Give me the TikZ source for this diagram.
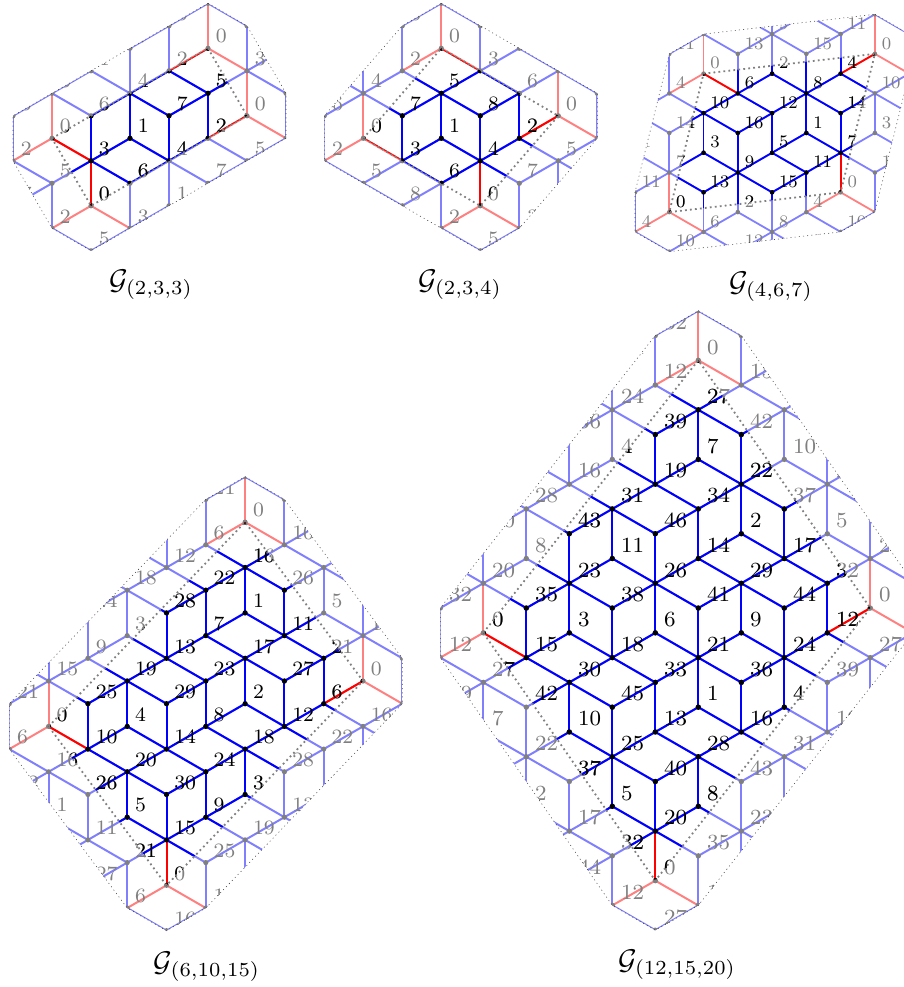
\documentclass[tikz,border=0pt]{standalone}
\colorlet{lblue}{blue!50}
\colorlet{lred}{red!50}
\colorlet{lgray}{black!50}
\tikzset{
  latedge/.style={line width=\ewidth,line cap=butt},
  vlabel/.style={font=\footnotesize,inner sep=0pt,anchor=base west,scale=\lscale},
  domdot/.style={gray,line width=1.8pt,dash pattern=on 1.8pt off 3.2pt},
  hulldot/.style={black!75,line width=0.55pt,dash pattern=on 1pt off 3.2pt},
  capt/.style={inner sep=0pt,scale=2.85}
}
\newcount\tmpm
\newcount\tmpq
\newcommand\getlab[2]{%
  \tmpm=\numexpr \pA*((#2-\rz-(#1-\cz))/2)+\pB*((#2-\rz+#1-\cz)/2)+100*\pN\relax
  \tmpq=\tmpm \divide\tmpq by \pN \multiply\tmpq by \pN \advance\tmpm by -\tmpq
  \edef\vlab{\the\tmpm}}
\newcommand\forverts[1]{%
  \foreach \vc in {\cmin,...,\cmax}{\foreach \vr in {\rmin,...,\rmax}{%
    \ifodd\numexpr\vc+\vr+\cz+\rz\relax\else\getlab\vc\vr #1\fi}}}
\newcommand\mkcoords{%
  \pgfmathtruncatemacro\cminx{\cmin-1}\pgfmathtruncatemacro\cmaxx{\cmax+1}%
  \pgfmathtruncatemacro\rminx{\rmin-2}\pgfmathtruncatemacro\rmaxx{\rmax+2}%
  \foreach \vc in {\cminx,...,\cmaxx}{\foreach \vr in {\rminx,...,\rmaxx}{%
    \coordinate (\pn_\vc_\vr) at (\vc,\vr);}}}
\newcommand\edgelayer[2]{%
  \forverts{%
    \ifnum\vlab=0 \def\ecol{#2}\else\def\ecol{#1}\fi
    \edef\cL{\the\numexpr\vc-1\relax}\edef\cR{\the\numexpr\vc+1\relax}%
    \edef\rD{\the\numexpr\vr+1\relax}\edef\rU{\the\numexpr\vr-2\relax}%
    \ifnum\numexpr\vlab+\pA\relax<\pN
      \draw[latedge,draw=\ecol] (\pn_\vc_\vr) -- (\pn_\cL_\rD);
    \fi
    \ifnum\numexpr\vlab+\pB\relax<\pN
      \draw[latedge,draw=\ecol] (\pn_\vc_\vr) -- (\pn_\cR_\rD);
    \fi
    \ifnum\numexpr\vlab+\pC\relax<\pN
      \draw[latedge,draw=\ecol] (\pn_\vc_\vr) -- (\pn_\vc_\rU);
    \fi}}
% signed distance of a label's centre from a convex polygon (y down, clockwise)
\newcommand\Pstart[2]{\def\prevc{#1}\def\prevr{#2}}
\newcommand\Pnext[2]{%
  \pgfmathsetmacro\dtmp{((1.732*(#1-\prevc))*(\ptr-\prevr)-(#2-\prevr)*(1.732*(\ptc-\prevc)))/veclen(1.732*(#1-\prevc),#2-\prevr)}%
  \pgfmathsetmacro\dmin{min(\dmin,\dtmp)}%
  \def\prevc{#1}\def\prevr{#2}}
\newcommand\polydist[2]{\def\dmin{100}#1\let#2\dmin}
\newcommand\labeldists{%
  \pgfmathsetmacro\ptc{\vc+0.4}\pgfmathsetmacro\ptr{\vr-0.55}%
  \polydist\hullpts\dH\polydist\domainpts\dD}
\newcommand\vertlayerlight{%
  \forverts{%
    \fill[gray] (\pn_\vc_\vr) circle[radius=\dotr];
    \labeldists
    \ifdim\dH pt>-0.55pt\ifdim\dD pt<0.55pt
      \node[vlabel,text=lgray] (\pn g_\vc_\vr) at ([shift={(\lx,\ly)}]\pn_\vc_\vr) {\vlab};
    \fi\fi}}
\newcommand\vertlayerdark{%
  \forverts{%
    \fill[black] (\pn_\vc_\vr) circle[radius=\dotr];
    \labeldists
    \ifdim\dD pt>-0.55pt
      \node[vlabel,text=black] (\pn k_\vc_\vr) at ([shift={(\lx,\ly)}]\pn_\vc_\vr) {\vlab};
    \fi}}
\newcommand\renderpanel{%
  \mkcoords
  \begin{scope}\clip \hull; \edgelayer{lblue}{lred}\vertlayerlight\end{scope}
  \begin{scope}\clip \domain; \edgelayer{blue}{red}\vertlayerdark\end{scope}
  \draw[domdot] \domain;
  \draw[hulldot] \hull;}
\begin{document}
\begin{tikzpicture}
\useasboundingbox (0pt,0pt) rectangle (904pt,-987pt);
\clip (0pt,0pt) rectangle (904pt,-987pt);
% G(2,3,3)
\begin{scope}[shift={(13pt,-3.3pt)},x=39pt,y=-22.5pt]
\def\pn{a}\def\pA{2}\def\pB{3}\def\pC{3}\def\pN{8}\def\cz{1}\def\rz{6}
\def\cmin{-1}\def\cmax{8}\def\rmin{-2}\def\rmax{13}
\def\dotr{2.6pt}\def\lx{7.4pt}\def\ly{5.3pt}\def\lscale{2.55}\def\ewidth{2pt}
\def\hull{(a_5_0) -- (a_6_1) -- (a_7_4) -- (a_7_6) -- (a_2_11) -- (a_1_10) -- (a_0_7) -- (a_0_5) -- cycle}
\def\hullpts{\Pstart{5}{0}\Pnext{6}{1}\Pnext{7}{4}\Pnext{7}{6}\Pnext{2}{11}\Pnext{1}{10}\Pnext{0}{7}\Pnext{0}{5}\Pnext{5}{0}}
\def\domain{(a_1_6) -- (a_5_2) -- (a_6_5) -- (a_2_9) -- cycle}
\def\domainpts{\Pstart{1}{6}\Pnext{5}{2}\Pnext{6}{5}\Pnext{2}{9}\Pnext{1}{6}}
\renderpanel
\end{scope}
% G(2,3,4)
\begin{scope}[shift={(324.3pt,-3.3pt)},x=39pt,y=-22.5pt]
\def\pn{b}\def\pA{2}\def\pB{3}\def\pC{4}\def\pN{9}\def\cz{1}\def\rz{6}
\def\cmin{-1}\def\cmax{8}\def\rmin{-2}\def\rmax{13}
\def\dotr{2.6pt}\def\lx{7.4pt}\def\ly{5.3pt}\def\lscale{2.55}\def\ewidth{2pt}
\def\hull{(b_3_0) -- (b_4_1) -- (b_7_4) -- (b_7_6) -- (b_5_10) -- (b_4_11) -- (b_0_7) -- (b_0_5) -- (b_2_1) -- cycle}
\def\hullpts{\Pstart{3}{0}\Pnext{4}{1}\Pnext{7}{4}\Pnext{7}{6}\Pnext{5}{10}\Pnext{4}{11}\Pnext{0}{7}\Pnext{0}{5}\Pnext{2}{1}\Pnext{3}{0}}
\def\domain{(b_1_6) -- (b_3_2) -- (b_6_5) -- (b_4_9) -- cycle}
\def\domainpts{\Pstart{1}{6}\Pnext{3}{2}\Pnext{6}{5}\Pnext{4}{9}\Pnext{1}{6}}
\renderpanel
\end{scope}
% G(4,6,7)
\begin{scope}[shift={(635pt,-14.3pt)},x=34.27pt,y=-19.78pt]
\def\pn{c}\def\pA{4}\def\pB{6}\def\pC{7}\def\pN{17}\def\cz{2}\def\rz{3}
\def\cmin{-1}\def\cmax{9}\def\rmin{-2}\def\rmax{14}
\def\dotr{2.3pt}\def\lx{6.5pt}\def\ly{4.8pt}\def\lscale{2.2}\def\ewidth{1.8pt}
\def\hull{(c_7_0) -- (c_8_1) -- (c_8_3) -- (c_7_10) -- (c_6_11) -- (c_1_12) -- (c_0_11) -- (c_0_9) -- (c_1_2) -- (c_2_1) -- cycle}
\def\hullpts{\Pstart{7}{0}\Pnext{8}{1}\Pnext{8}{3}\Pnext{7}{10}\Pnext{6}{11}\Pnext{1}{12}\Pnext{0}{11}\Pnext{0}{9}\Pnext{1}{2}\Pnext{2}{1}\Pnext{7}{0}}
\def\domain{(c_2_3) -- (c_7_2) -- (c_6_9) -- (c_1_10) -- cycle}
\def\domainpts{\Pstart{2}{3}\Pnext{7}{2}\Pnext{6}{9}\Pnext{1}{10}\Pnext{2}{3}}
\renderpanel
\end{scope}
% G(6,10,15)
\begin{scope}[shift={(9.3pt,-476.7pt)},x=39.3pt,y=-22.7pt]
\def\pn{d}\def\pA{6}\def\pB{10}\def\pC{15}\def\pN{31}\def\cz{1}\def\rz{11}
\def\cmin{-1}\def\cmax{11}\def\rmin{-2}\def\rmax{22}
\def\dotr{2.6pt}\def\lx{7.4pt}\def\ly{5.3pt}\def\lscale{2.55}\def\ewidth{2pt}
\def\hull{(d_6_0) -- (d_7_1) -- (d_10_8) -- (d_10_10) -- (d_5_19) -- (d_4_20) -- (d_3_19) -- (d_0_12) -- (d_0_10) -- (d_5_1) -- cycle}
\def\hullpts{\Pstart{6}{0}\Pnext{7}{1}\Pnext{10}{8}\Pnext{10}{10}\Pnext{5}{19}\Pnext{4}{20}\Pnext{3}{19}\Pnext{0}{12}\Pnext{0}{10}\Pnext{5}{1}\Pnext{6}{0}}
\def\domain{(d_1_11) -- (d_6_2) -- (d_9_9) -- (d_4_18) -- cycle}
\def\domainpts{\Pstart{1}{11}\Pnext{6}{2}\Pnext{9}{9}\Pnext{4}{18}\Pnext{1}{11}}
\renderpanel
\end{scope}
% G(12,15,20)
\begin{scope}[shift={(440.3pt,-310.7pt)},x=43pt,y=-24.78pt]
\def\pn{e}\def\pA{12}\def\pB{15}\def\pC{20}\def\pN{47}\def\cz{1}\def\rz{13}
\def\cmin{-1}\def\cmax{12}\def\rmin{-2}\def\rmax{27}
\def\dotr{2.7pt}\def\lx{8.2pt}\def\ly{6.2pt}\def\lscale{2.7}\def\ewidth{2pt}
\def\hull{(e_6_0) -- (e_7_1) -- (e_11_11) -- (e_11_13) -- (e_6_24) -- (e_5_25) -- (e_4_24) -- (e_0_14) -- (e_0_12) -- (e_5_1) -- cycle}
\def\hullpts{\Pstart{6}{0}\Pnext{7}{1}\Pnext{11}{11}\Pnext{11}{13}\Pnext{6}{24}\Pnext{5}{25}\Pnext{4}{24}\Pnext{0}{14}\Pnext{0}{12}\Pnext{5}{1}\Pnext{6}{0}}
\def\domain{(e_1_13) -- (e_6_2) -- (e_10_12) -- (e_5_23) -- cycle}
\def\domainpts{\Pstart{1}{13}\Pnext{6}{2}\Pnext{10}{12}\Pnext{5}{23}\Pnext{1}{13}}
\renderpanel
\end{scope}
\node[capt] (capa) at (151pt,-285pt) {$\mathcal{G}_{(2,3,3)}$};
\node[capt] (capb) at (460pt,-285pt) {$\mathcal{G}_{(2,3,4)}$};
\node[capt] (capc) at (771pt,-287pt) {$\mathcal{G}_{(4,6,7)}$};
\node[capt] (capd) at (207pt,-967pt) {$\mathcal{G}_{(6,10,15)}$};
\node[capt] (cape) at (677pt,-965pt) {$\mathcal{G}_{(12,15,20)}$};
\end{tikzpicture}
\end{document}
